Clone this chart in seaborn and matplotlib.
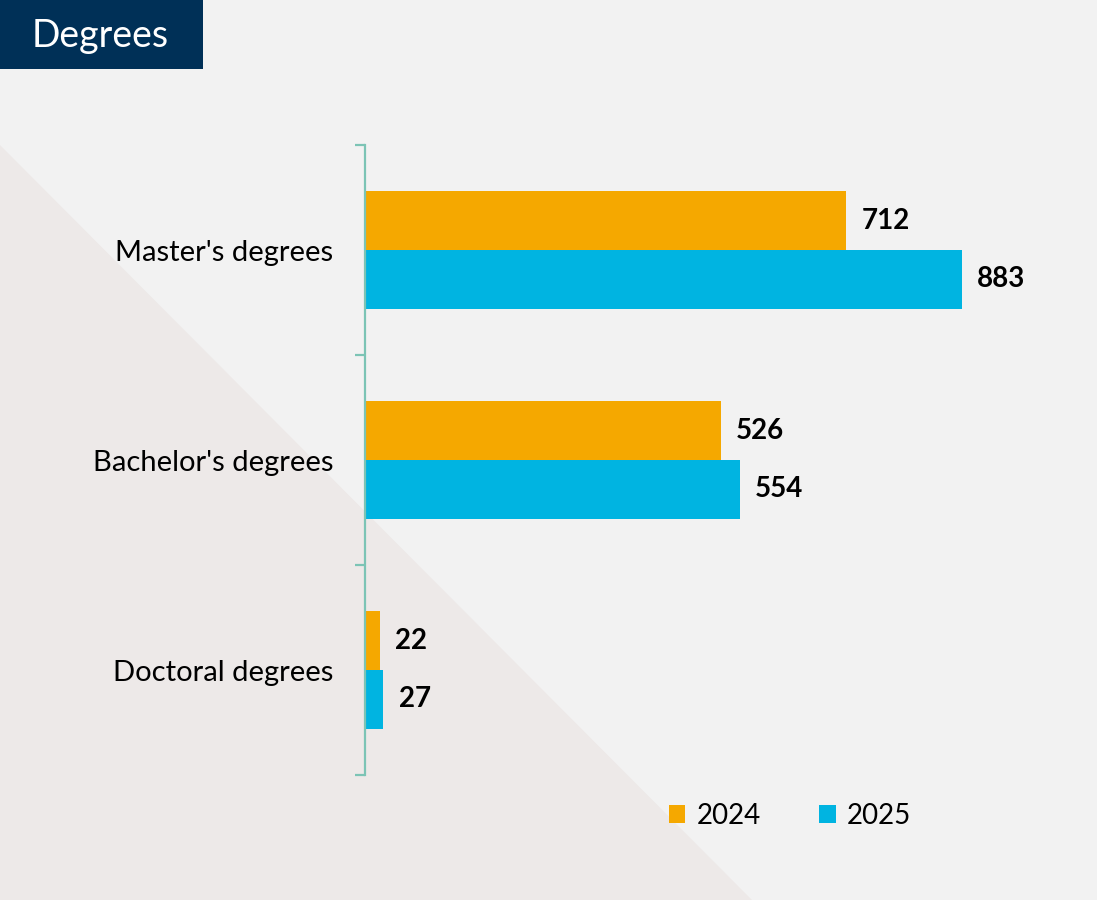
import matplotlib.pyplot as plt
import matplotlib.patches as mpatches
import pandas as pd
import seaborn as sns

# Chart data
categories = ["Master's degrees", "Bachelor's degrees", "Doctoral degrees"]
years = ["2024", "2025"]
values_2024 = [712, 526, 22]
values_2025 = [883, 554, 27]

BG = "#f2f2f2"
TRIANGLE = "#ede9e8"
NAVY = "#003057"
TEAL = "#7cc4b5"
palette = {"2024": "#f5a800", "2025": "#00b4e1"}


def build_frame():
    rows = []
    for cat, a, b in zip(categories, values_2024, values_2025):
        rows.append([cat, years[0], a])
        rows.append([cat, years[1], b])
    return pd.DataFrame(rows, columns=["degree", "year", "count"])


def main():
    df = build_frame()
    sns.set_style("white")
    plt.rcParams["font.family"] = ["Lato", "DejaVu Sans"]

    fig = plt.figure(figsize=(10.97, 9), dpi=100, facecolor=BG)

    # background decoration: diagonal triangle and title box
    fig.patches.append(mpatches.Polygon([(0, 1 - 145 / 900), (0, 0), (752 / 1097, 0)],
                                        closed=True, transform=fig.transFigure,
                                        facecolor=TRIANGLE, edgecolor="none", zorder=-10))
    fig.patches.append(mpatches.Rectangle((0, 1 - 69 / 900), 203 / 1097, 69 / 900,
                                          transform=fig.transFigure, facecolor=NAVY,
                                          edgecolor="none", zorder=1))
    fig.text(100 / 1097, 1 - 36 / 900, "Degrees", color="white", fontsize=27,
             ha="center", va="center")

    ax = fig.add_axes([365 / 1097, 1 - 775 / 900, 676 / 1097, 630 / 900])
    ax.set_zorder(2)
    ax.patch.set_alpha(0)

    sns.barplot(data=df, y="degree", x="count", hue="year", palette=palette,
                orient="h", width=0.56, saturation=1, ax=ax, legend=True,
                edgecolor="none", linewidth=0)

    ax.set_xlim(0, 1000)
    ax.set_ylim(2.5, -0.5)

    for cont in ax.containers:
        ax.bar_label(cont, padding=11, fontsize=20, fontweight="bold", color="black")

    # spines / ticks
    for side in ["top", "right", "bottom"]:
        ax.spines[side].set_visible(False)
    ax.spines["left"].set_color(TEAL)
    ax.spines["left"].set_linewidth(1.6)
    ax.set_xticks([])
    ax.set_yticks([-0.5, 0.5, 1.5, 2.5])
    ax.set_yticklabels([])
    ax.set_yticks([0, 1, 2], minor=True)
    ax.set_yticklabels(categories, minor=True, fontsize=21, color="black")
    ax.tick_params(axis="y", which="major", length=7, width=1.6, color=TEAL, left=True)
    ax.tick_params(axis="y", which="minor", length=0, pad=23)
    ax.set_xlabel("")
    ax.set_ylabel("")

    handles, labels = ax.get_legend_handles_labels()
    leg = ax.legend(handles, labels, loc="center", bbox_to_anchor=(790 / 1097, 1 - 816 / 900),
                    bbox_transform=fig.transFigure, ncol=2, frameon=False, fontsize=20,
                    handlelength=0.6, handleheight=0.6, handletextpad=0.4, columnspacing=2.1)
    for t in leg.get_texts():
        t.set_color("black")

    fig.savefig("out.png", dpi=100, facecolor=BG)


if __name__ == '__main__':
    main()
